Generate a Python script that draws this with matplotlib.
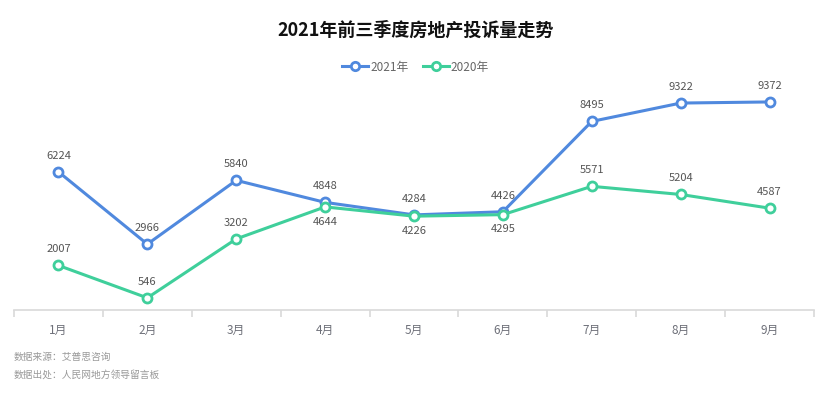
import numpy as np
import matplotlib
matplotlib.use('Agg')
import matplotlib.pyplot as plt
from matplotlib.lines import Line2D

plt.rcParams['font.family'] = ['Noto Sans CJK SC', 'DejaVu Sans']

months = ['1月', '2月', '3月', '4月', '5月', '6月', '7月', '8月', '9月']
y2021 = [6224, 2966, 5840, 4848, 4284, 4426, 8495, 9322, 9372]
y2020 = [2007, 546, 3202, 4644, 4226, 4295, 5571, 5204, 4587]
series = [('2021年', y2021, '#5089DE'), ('2020年', y2020, '#3FCF9B')]
# 2020 labels that sit under the point (where the lines nearly meet)
below_2020 = [3, 4, 5]

fig = plt.figure(figsize=(8.31, 3.95), dpi=100)
ax = fig.add_axes([14 / 831, 85 / 395, 800 / 831, 222 / 395])
x = np.arange(len(months))

for k, (name, vals, color) in enumerate(series):
    ax.plot(x, vals, color=color, lw=2.2, marker='o', ms=6.5,
            mfc='white', mec=color, mew=2, zorder=3, solid_capstyle='round')
    for xi, v in zip(x, vals):
        if k == 1 and xi in below_2020:
            off, va = -7, 'top'
        else:
            off, va = 8, 'bottom'
        ax.annotate(str(v), (xi, v), xytext=(0, off), textcoords='offset points',
                    ha='center', va=va, fontsize=8, color='#555555')

ax.set_xlim(-0.5, len(months) - 0.5)
ax.set_ylim(0, 10000)
for s in ['top', 'right', 'left']:
    ax.spines[s].set_visible(False)
ax.spines['bottom'].set_color('#D9D9D9')
ax.spines['bottom'].set_linewidth(1.2)
ax.set_yticks([])
ax.set_xticks(x)
ax.set_xticklabels(months, fontsize=8.5, color='#6E7079')
ax.tick_params(axis='x', length=0, pad=10)
ax.set_xticks(np.arange(-0.5, len(months) + 0.5, 1), minor=True)
ax.tick_params(axis='x', which='minor', length=5, color='#D9D9D9', width=1.2)

fig.text(0.5, 1 - 30 / 395, '2021年前三季度房地产投诉量走势', ha='center', va='center',
         fontsize=13, fontweight='bold', color='#111111')

handles = [Line2D([0], [0], color=c, lw=2.2, marker='o', ms=6, mfc='white', mec=c, mew=2)
           for _, _, c in series]
fig.legend(handles, [n for n, _, _ in series], loc='center', bbox_to_anchor=(0.5, 1 - 67 / 395),
           ncol=2, frameon=False, fontsize=8.5, labelcolor='#666666', handlelength=2.2,
           handletextpad=0.2, columnspacing=1.2)

fig.text(14 / 831, 1 - 357 / 395, '数据来源：艾普思咨询', fontsize=7, color='#999999', va='center')
fig.text(14 / 831, 1 - 375 / 395, '数据出处：人民网地方领导留言板', fontsize=7, color='#999999', va='center')

fig.savefig('out.png', dpi=100)
